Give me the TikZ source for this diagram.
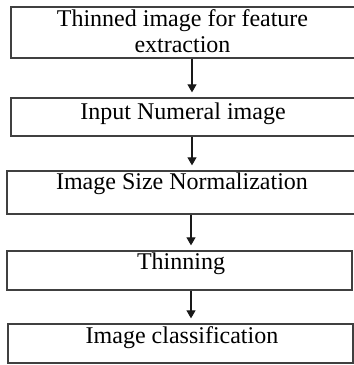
\documentclass[tikz,border=0pt]{standalone}
\usepackage{fontspec}
\setmainfont{Liberation Serif}
\usetikzlibrary{arrows.meta}

\begin{document}
\begin{tikzpicture}[x=1pt,y=-1pt,
        box/.style={draw=black!75,line width=1.3pt,rectangle,inner sep=0pt,minimum width=#1},
        box/.default=344pt,
        txt/.style={inner sep=0pt,font=\fontsize{24}{26}\selectfont,align=center},
        flow/.style={draw=black!90,line width=1.1pt,-{Triangle[length=8pt,width=9pt]},shorten >=5pt}]
        \useasboundingbox (0,0) rectangle (354,365);
        \node[box,minimum height=51pt](b1) at (183,32.5) {};
        \node[box,minimum height=38pt](b2) at (183,117) {};
        \node[box=348pt,minimum height=43pt](b3) at (181,192.5) {};
        \node[box=345pt,minimum height=39pt](b4) at (179.5,270.5) {};
        \node[box=345pt,minimum height=39pt](b5) at (180.5,343.5) {};
        \node[txt](t1) at (182.5,31) {Thinned image for feature\\extraction};
        \node[txt](t2) at (183,114) {Input Numeral image};
        \node[txt](t3) at (182,184) {Image Size Normalization};
        \node[txt](t4) at (181,264) {Thinning};
        \node[txt](t5) at (182,338) {Image classification};
        \coordinate(ax) at (192,0);
        \coordinate(bx) at (191,0);
        \draw[flow](b1.south -| ax)--(b2.north -| ax);
        \draw[flow](b2.south -| ax)--(b3.north -| ax);
        \draw[flow](b3.south -| bx)--(b4.north -| bx);
        \draw[flow](b4.south -| bx)--(b5.north -| bx);
        \end{tikzpicture}
\end{document}
